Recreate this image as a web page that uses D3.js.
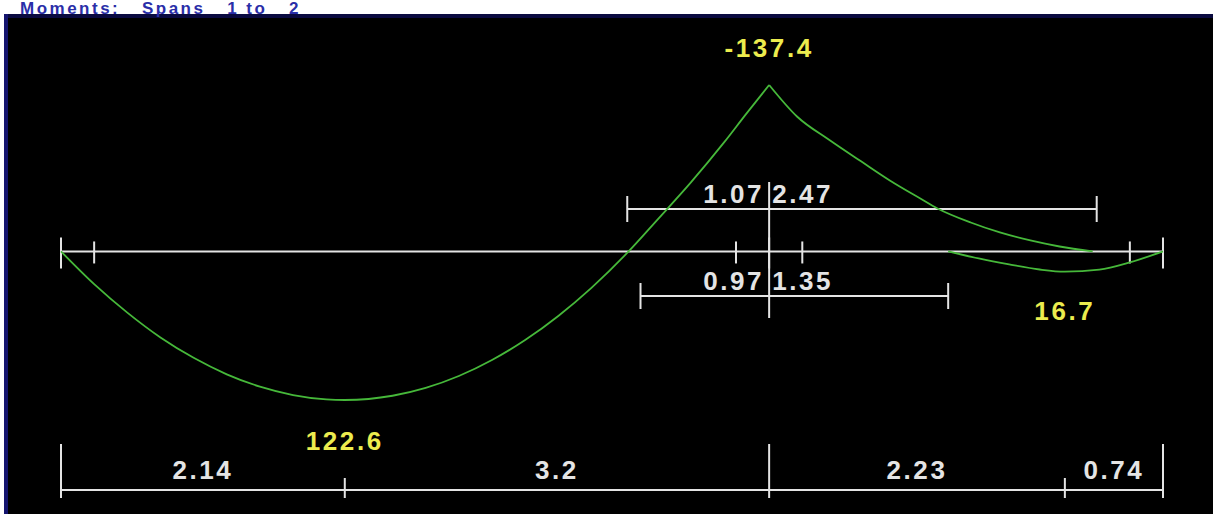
<!DOCTYPE html>
<html>
<head>
<meta charset="utf-8">
<script src="https://cdn.jsdelivr.net/npm/d3@7"></script>
<style>
  html, body { margin: 0; padding: 0; background: #ffffff; overflow: hidden; }
  svg { display: block; }
  .pre { white-space: pre; }
</style>
</head>
<body>
<svg id="chart" width="1213" height="514"></svg>
<script>
// ---- Beam geometry (m) ----
const spanLengths = [5.34, 2.97];
const bottomDims = [2.14, 3.2, 2.23, 0.74];       // dimension chain under the beam
const faceOffset = 0.25;                            // column face marks from each support
const hogDims = [1.07, 2.47];                       // negative-moment extents either side of support 2
const sagDims = [0.97, 1.35];                       // positive-moment extents either side of support 2

// ---- Moment envelope (kNm), positions in m from left support ----
const span1X = [0, 0.25, 0.5, 0.75, 1.0, 1.25, 1.5, 1.75, 2.0, 2.14, 2.5, 2.75, 3.0, 3.25, 3.5, 3.75, 4.0, 4.28, 4.5, 4.75, 5.0, 5.17, 5.34];
const span1M = [0, 27, 50.5, 71, 87.8, 101.4, 111.6, 118.5, 122.1, 122.6, 119.1, 112.6, 102.8, 89.6, 73.1, 53.2, 30, 0, -26.5, -57, -90, -114, -137.4];

const span2NegX = [5.34, 5.55, 5.80, 6.03, 6.25, 6.48, 6.61, 6.86, 7.08, 7.31, 7.53, 7.78];
const span2NegM = [-137.4, -111.4, -91.6, -74.6, -58.6, -43.7, -35.5, -23.9, -15.7, -9.1, -4.1, 0];

const span2PosX = [6.69, 6.92, 7.15, 7.38, 7.57, 7.83, 8.06, 8.31];
const span2PosM = [0, 5.8, 10.7, 14.9, 16.7, 15, 9, 0];

// ---- Value labels ----
const peakLabels = [
  { x: 5.34, text: "-137.4", baseline: 57 },
  { x: 2.14, text: "122.6", baseline: 450 },
  { x: 7.57, text: "16.7", baseline: 320 }
];
const titleText = "Moments:   Spans   1 to   2";

const svg = d3.select("#chart");
const W = 1213, H = 514;
const totalLen = d3.sum(spanLengths);
const support2 = spanLengths[0];

const x = d3.scaleLinear().domain([0, totalLen]).range([61, 1163]);
const y = d3.scaleLinear().domain([-137.4, 122.6]).range([85, 400]);
const y0 = y(0);

const LINE = "#e4e4e4";
const GREEN = "#46b83a";
const YELLOW = "#ecec4e";
const FONT = "'Liberation Sans', Arial, sans-serif";

// window frame
svg.append("rect").attr("x", 0).attr("y", 0).attr("width", W).attr("height", H).attr("fill", "#ffffff");
svg.append("rect").attr("x", 4).attr("y", 14).attr("width", W - 4).attr("height", H - 14).attr("fill", "#000000");
svg.append("rect").attr("x", 4).attr("y", 14).attr("width", W - 4).attr("height", 4).attr("fill", "#0a0a40");
svg.append("rect").attr("x", 4).attr("y", 14).attr("width", 4).attr("height", H - 14).attr("fill", "#14146e");

svg.append("text")
  .attr("class", "pre")
  .attr("x", 20).attr("y", 13.5)
  .attr("font-family", FONT)
  .attr("font-weight", "bold")
  .attr("font-size", 17)
  .attr("letter-spacing", 2.5)
  .attr("fill", "#2a2ea8")
  .text(titleText);

const g = svg.append("g");

function hLine(x1, x2, yy) {
  g.append("line").attr("x1", x1).attr("x2", x2).attr("y1", yy).attr("y2", yy)
    .attr("stroke", LINE).attr("stroke-width", 2);
}
function vTick(xx, ya, yb) {
  g.append("line").attr("x1", xx).attr("x2", xx).attr("y1", ya).attr("y2", yb)
    .attr("stroke", LINE).attr("stroke-width", 2);
}
function label(xx, yy, text, anchor, color) {
  g.append("text").attr("x", xx).attr("y", yy)
    .attr("text-anchor", anchor)
    .attr("font-family", FONT)
    .attr("font-size", 26)
    .attr("font-weight", "bold")
    .attr("letter-spacing", 2.6)
    .attr("fill", color)
    .text(text);
}

// beam axis with supports and column faces
hLine(x(0), x(totalLen), y0);
const supports = [0, support2, totalLen];
supports.forEach(s => vTick(x(s), y0 - 14, y0 + 17));
[faceOffset, support2 - faceOffset, support2 + faceOffset, totalLen - faceOffset]
  .forEach(s => vTick(x(s), y0 - 10, y0 + 12));

// hogging extents around support 2
const hogY = 209;
hLine(x(support2 - hogDims[0]), x(support2 + hogDims[1]), hogY);
vTick(x(support2 - hogDims[0]), hogY - 13, hogY + 13);
vTick(x(support2 + hogDims[1]), hogY - 13, hogY + 13);
vTick(x(support2), 182, 318);
label(x(support2) - 5, hogY - 6, hogDims[0].toFixed(2), "end", LINE);
label(x(support2) + 3, hogY - 6, hogDims[1].toFixed(2), "start", LINE);

// sagging extents around support 2
const sagY = 296;
hLine(x(support2 - sagDims[0]), x(support2 + sagDims[1]), sagY);
vTick(x(support2 - sagDims[0]), sagY - 13, sagY + 13);
vTick(x(support2 + sagDims[1]), sagY - 13, sagY + 13);
label(x(support2) - 5, sagY - 6, sagDims[0].toFixed(2), "end", LINE);
label(x(support2) + 3, sagY - 6, sagDims[1].toFixed(2), "start", LINE);

// bottom dimension chain
const dimY = 490;
const cum = [0];
bottomDims.forEach(d => cum.push(+(cum[cum.length - 1] + d).toFixed(4)));
hLine(x(0), x(totalLen), dimY);
cum.forEach(c => {
  const isSupport = supports.some(s => Math.abs(s - c) < 1e-6);
  vTick(x(c), isSupport ? dimY - 46 : dimY - 12, dimY + 8);
});
bottomDims.forEach((d, i) => {
  label((x(cum[i]) + x(cum[i + 1])) / 2, dimY - 11, String(d), "middle", LINE);
});

// moment envelope curves
function curve(xs, ms) {
  g.append("path").datum(xs.map((v, i) => [v, ms[i]]))
    .attr("d", d3.line().x(d => x(d[0])).y(d => y(d[1])).curve(d3.curveMonotoneX))
    .attr("fill", "none").attr("stroke", GREEN).attr("stroke-width", 1.8);
}
curve(span1X, span1M);
curve(span2NegX, span2NegM);
curve(span2PosX, span2PosM);

// peak value labels
peakLabels.forEach(p => label(x(p.x), p.baseline, p.text, "middle", YELLOW));
</script>
</body>
</html>
